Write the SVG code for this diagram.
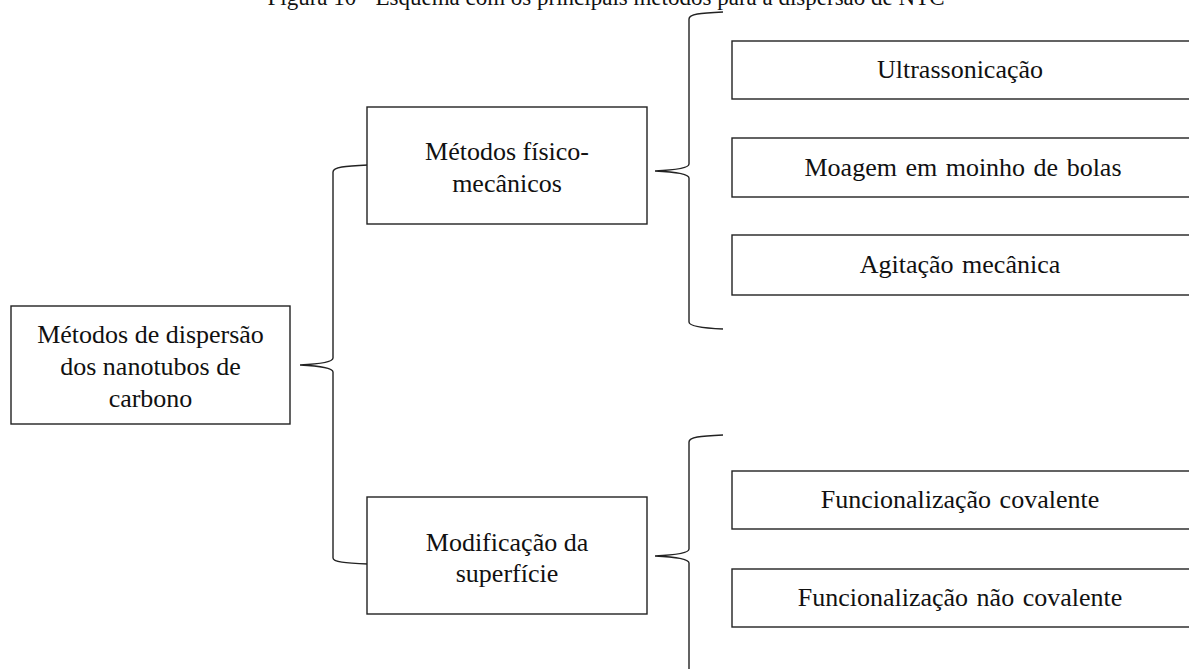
<svg xmlns="http://www.w3.org/2000/svg" width="1189" height="669" viewBox="0 0 1189 669">
<style>
.box{fill:#fff;stroke:#222;stroke-width:1.4}
.br{fill:none;stroke:#222;stroke-width:1.4}
text{font-family:"Liberation Serif","Times New Roman",serif;fill:#111;text-anchor:middle}
.t{font-size:26px}
.s{font-size:26px;word-spacing:2px}
.title{font-size:23px}
</style>
<rect width="1189" height="669" fill="#fff"/>
<text class="title" x="606" y="5">Figura 10 - Esquema com os principais métodos para a dispersão de NTC</text>
<g id="connectors">
<path class="br" d="M368,165 C345,166 333,167 333,172 V358 C333,362 320,364 300,365 C320,366 333,368 333,372 V558 C333,562 345,563 368,564"/>
<path class="br" d="M723,12 C700,13 689,14 689,19 V164 C689,168 676,170 655,171 C676,172 689,174 689,178 V322 C689,326 700,328 723,329"/>
<path class="br" d="M723,435 C700,436 689,437 689,442 V549 C689,553 676,555 655,556 C676,557 689,559 689,563 V675"/>
</g>
<g id="root">
<rect class="box" x="11" y="306" width="279" height="118"/>
<text class="t" x="150.5" y="343">Métodos de dispersão</text>
<text class="t" x="150.5" y="375">dos nanotubos de</text>
<text class="t" x="150.5" y="407">carbono</text>
</g>
<g id="fisico">
<rect class="box" x="367" y="107" width="280" height="117"/>
<text class="t" x="507" y="160">Métodos físico-</text>
<text class="t" x="507" y="192">mecânicos</text>
</g>
<g id="superficie">
<rect class="box" x="367" y="497" width="280" height="117"/>
<text class="t" x="507" y="551">Modificação da</text>
<text class="t" x="507" y="582">superfície</text>
</g>
<g id="ultrassonicacao">
<rect class="box" x="732" y="41" width="470" height="58"/>
<text class="s" x="960" y="78">Ultrassonicação</text>
</g>
<g id="moagem">
<rect class="box" x="732" y="138" width="470" height="59"/>
<text class="s" x="963" y="176">Moagem em moinho de bolas</text>
</g>
<g id="agitacao">
<rect class="box" x="732" y="235" width="470" height="60"/>
<text class="s" x="960" y="273">Agitação mecânica</text>
</g>
<g id="covalente">
<rect class="box" x="732" y="471" width="470" height="58"/>
<text class="s" x="960" y="508">Funcionalização covalente</text>
</g>
<g id="naocovalente">
<rect class="box" x="732" y="569" width="470" height="58"/>
<text class="s" x="960" y="606">Funcionalização não covalente</text>
</g>
</svg>
